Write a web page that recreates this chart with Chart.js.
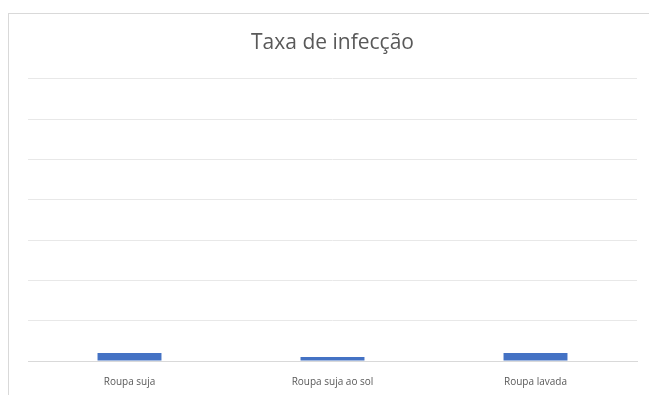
<!DOCTYPE html>
<html>
<head>
<meta charset="utf-8">
<script src="https://cdn.jsdelivr.net/npm/chart.js@4/dist/chart.umd.min.js"></script>
<style>
    html, body { margin: 0; padding: 0; background: #fff; overflow: hidden; }
    #frame {
        position: absolute;
        left: 8px;
        top: 13px;
        width: 700px;
        height: 420px;
        border: 1px solid #d9d9d9;
        background: #fff;
    }
    #wrap { position: absolute; left: 0; top: 0; width: 640px; height: 398px; }
</style>
</head>
<body>
<div id="frame">
    <div id="wrap"><canvas id="chart"></canvas></div>
</div>
<script>
// Taxa de infecção (axis has no labels)
const categories = ['Roupa suja', 'Roupa suja ao sol', 'Roupa lavada'];
const infectionRate = [0.2, 0.1, 0.2];
const yMax = 7;
const yStep = 1;

new Chart(document.getElementById('chart'), {
    type: 'bar',
    data: {
        labels: categories,
        datasets: [{
            label: 'Taxa de infecção',
            data: infectionRate,
            backgroundColor: '#4472C4',
            borderWidth: 0,
            categoryPercentage: 1,
            barPercentage: 0.315,
        }],
    },
    options: {
        responsive: true,
        maintainAspectRatio: false,
        animation: false,
        layout: { padding: { left: 19, right: 12, top: 0, bottom: 9 } },
        plugins: {
            legend: { display: false },
            tooltip: { enabled: false },
            title: {
                display: true,
                text: 'Taxa de infecção',
                color: '#595959',
                font: { family: '"Open Sans", sans-serif', size: 21, weight: 'normal', lineHeight: 1.2 },
                padding: { top: 16.5, bottom: 23.1 },
            },
        },
        scales: {
            x: {
                grid: { display: false, drawTicks: false },
                border: { display: true, color: '#d9d9d9', width: 1 },
                ticks: {
                    color: '#595959',
                    font: { family: '"Open Sans", sans-serif', size: 10, lineHeight: 1.2 },
                    padding: 15,
                    maxRotation: 0,
                },
            },
            y: {
                min: 0,
                max: yMax,
                grid: { color: '#e8e8e8', drawTicks: false },
                border: { display: false },
                ticks: { display: false, stepSize: yStep },
            },
        },
    },
});
</script>
</body>
</html>
